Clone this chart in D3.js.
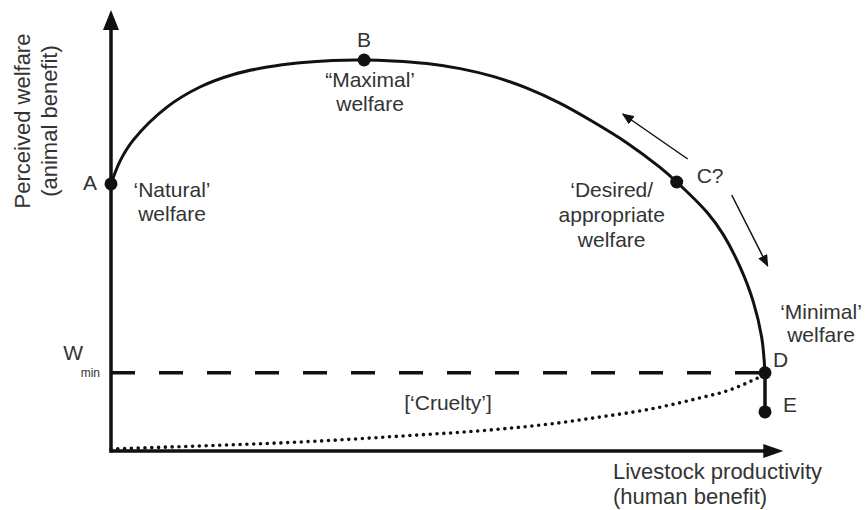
<!DOCTYPE html>
<html>
<head>
<meta charset="utf-8">
<script src="https://cdn.jsdelivr.net/npm/d3@7"></script>
<style>
  body { margin: 0; background: #fff; }
  text { font-family: "Liberation Sans", Arial, sans-serif; fill: #333; }
</style>
</head>
<body>
<svg id="chart" width="865" height="510"></svg>
<script>
// welfare frontier (productivity 0-100, welfare 0-100)
var frontierX = [0, 1.4, 3.4, 8.6, 13.6, 18.7, 23.9, 28.9, 33.9, 38.7, 43.1, 48.3, 53.4, 58.4, 63.6, 68.7, 73.7, 78.9, 83.9, 86.5, 91.1, 93.6, 96.2, 98.2, 99.5, 100];
var frontierY = [68.3, 74.2, 79.5, 88.0, 93.1, 96.3, 98.2, 99.3, 99.9, 100, 99.75, 99.1, 97.8, 95.8, 92.8, 88.9, 84.2, 78.8, 72.6, 68.8, 61.1, 55.4, 47.0, 38.2, 29.0, 20];

// dotted 'cruelty' curve
var crueltyX = [0, 13.6, 28.9, 44.2, 59.5, 67.1, 74.8, 82.4, 90.1, 94.6, 98.9];
var crueltyY = [0.5, 1.3, 2.3, 3.8, 5.6, 6.9, 8.7, 10.7, 13.6, 15.6, 18.7];

var pointNames = ['A', 'B', 'C', 'D', 'E'];
var pointX = [0, 38.7, 86.5, 100, 100];
var pointY = [68.3, 100, 68.8, 20, 10];

var wMin = 20;
var axisEnd = {x: 102.8, y: 112.8};

var svg = d3.select('#chart');
var x = d3.scaleLinear().domain([0, 100]).range([111, 765]);
var y = d3.scaleLinear().domain([0, 100]).range([451, 60]);

var ink = '#111';

// axes
svg.append('line')
  .attr('x1', x(0)).attr('y1', y(0) + 1.5)
  .attr('x2', x(0)).attr('y2', y(axisEnd.y) + 18)
  .attr('stroke', ink).attr('stroke-width', 3.5);
svg.append('path')
  .attr('d', 'M' + x(0) + ',' + y(axisEnd.y) + 'L' + (x(0) - 8) + ',' + (y(axisEnd.y) + 20) + 'L' + (x(0) + 8) + ',' + (y(axisEnd.y) + 20) + 'Z')
  .attr('fill', ink);
svg.append('line')
  .attr('x1', x(0) - 1.5).attr('y1', y(0))
  .attr('x2', x(axisEnd.x) - 18).attr('y2', y(0))
  .attr('stroke', ink).attr('stroke-width', 3.5);
svg.append('path')
  .attr('d', 'M' + x(axisEnd.x) + ',' + y(0) + 'L' + (x(axisEnd.x) - 20) + ',' + (y(0) - 7) + 'L' + (x(axisEnd.x) - 20) + ',' + (y(0) + 7) + 'Z')
  .attr('fill', ink);

// Wmin dashed line
svg.append('line')
  .attr('x1', x(0)).attr('y1', y(wMin))
  .attr('x2', x(100)).attr('y2', y(wMin))
  .attr('stroke', ink).attr('stroke-width', 3.5)
  .attr('stroke-dasharray', '24 24');

// dotted curve
var cruelty = crueltyX.map(function(d, i) { return [d, crueltyY[i]]; });
svg.append('path')
  .datum(cruelty)
  .attr('fill', 'none')
  .attr('stroke', ink)
  .attr('stroke-width', 3.6)
  .attr('stroke-linecap', 'round')
  .attr('stroke-dasharray', '0 6.8')
  .attr('d', d3.line()
    .x(function(d) { return x(d[0]); })
    .y(function(d) { return y(d[1]); })
    .curve(d3.curveMonotoneX));

// frontier
var frontier = frontierX.map(function(d, i) { return [d, frontierY[i]]; });
svg.append('path')
  .datum(frontier)
  .attr('fill', 'none')
  .attr('stroke', ink)
  .attr('stroke-width', 3)
  .attr('d', d3.line()
    .x(function(d) { return x(d[0]); })
    .y(function(d) { return y(d[1]); })
    .curve(d3.curveCatmullRom.alpha(0.5)));

// D to E
svg.append('line')
  .attr('x1', x(pointX[3])).attr('y1', y(pointY[3]))
  .attr('x2', x(pointX[4])).attr('y2', y(pointY[4]))
  .attr('stroke', ink).attr('stroke-width', 3.5);

svg.selectAll('.pt')
  .data(pointNames)
  .enter().append('circle')
  .attr('class', 'pt')
  .attr('cx', function(d, i) { return x(pointX[i]); })
  .attr('cy', function(d, i) { return y(pointY[i]); })
  .attr('r', 6.5)
  .attr('fill', ink);

// arrows around C
svg.append('defs').append('marker')
  .attr('id', 'head')
  .attr('viewBox', '0 0 12 10')
  .attr('refX', 11).attr('refY', 5)
  .attr('markerWidth', 12).attr('markerHeight', 10)
  .attr('markerUnits', 'userSpaceOnUse')
  .attr('orient', 'auto')
  .append('path').attr('d', 'M0,0L12,5L0,10Z').attr('fill', ink);

var cx = x(pointX[2]), cy = y(pointY[2]);
[[11, -23, -54, -68], [55, 13, 91, 84]].forEach(function(a) {
  svg.append('line')
    .attr('x1', cx + a[0]).attr('y1', cy + a[1])
    .attr('x2', cx + a[2]).attr('y2', cy + a[3])
    .attr('stroke', ink).attr('stroke-width', 1.5)
    .attr('marker-end', 'url(#head)');
});

// text
function label(tx, ty, str, anchor, size) {
  svg.append('text')
    .attr('x', tx).attr('y', ty)
    .attr('text-anchor', anchor || 'start')
    .style('font-size', (size || 21) + 'px')
    .text(str);
}
function px(i) { return x(pointX[i]); }
function py(i) { return y(pointY[i]); }

label(px(0) - 14, py(0) + 6, 'A', 'end');
label(px(0) + 61, py(0) + 13, '\u2018Natural\u2019', 'middle');
label(px(0) + 61, py(0) + 37, 'welfare', 'middle');

label(px(1), py(1) - 13, 'B', 'middle');
label(px(1) + 6, py(1) + 27, '\u201cMaximal\u2019', 'middle');
label(px(1) + 6, py(1) + 51, 'welfare', 'middle');

label(px(2) + 20, py(2) + 1, 'C?');
label(px(2) - 65, py(2) + 15, '\u2018Desired/', 'middle');
label(px(2) - 65, py(2) + 40, 'appropriate', 'middle');
label(px(2) - 65, py(2) + 65, 'welfare', 'middle');

label(px(3) + 56, py(3) - 54, '\u2018Minimal\u2019', 'middle');
label(px(3) + 56, py(3) - 31, 'welfare', 'middle');
label(px(3) + 8, py(3) - 6, 'D');
label(px(4) + 18, py(4), 'E');

label(x(0) - 28, y(wMin) - 13, 'W', 'end');
label(x(0) - 11, y(wMin) + 4, 'min', 'end', 12);

label((x(0) + x(100)) / 2 + 10, y(wMin) + 37, '[\u2018Cruelty\u2019]', 'middle');

label(x(100) - 152, y(0) + 28, 'Livestock productivity', 'start', 22);
label(x(100) - 152, y(0) + 53, '(human benefit)', 'start', 22);

var yl = svg.append('g').attr('transform', 'translate(30,' + 121 + ') rotate(-90)');
yl.append('text').attr('text-anchor', 'middle').style('font-size', '22px').text('Perceived welfare');
yl.append('text').attr('y', 27).attr('text-anchor', 'middle').style('font-size', '22px').text('(animal benefit)');
</script>
</body>
</html>
